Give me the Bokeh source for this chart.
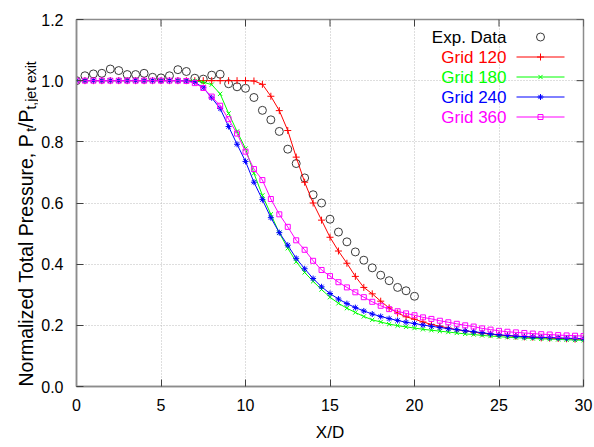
import math
from bokeh.plotting import figure
from bokeh.layouts import row
from bokeh.models import (FixedTicker, NumeralTickFormatter, Label, Range1d, ColumnDataSource)
from bokeh.embed import file_html
from bokeh.resources import INLINE

# ---------------- data ----------------
x_grid = [0.0, 0.5, 1.0, 1.5, 2.0, 2.5, 3.0, 3.5, 4.0, 4.5, 5.0, 5.5, 6.0, 6.5, 7.0, 7.5,
          8.0, 8.5, 9.0, 9.5, 10.0, 10.5, 11.0, 11.5, 12.0, 12.5, 13.0, 13.5, 14.0, 14.5,
          15.0, 15.5, 16.0, 16.5, 17.0, 17.5, 18.0, 18.5, 19.0, 19.5, 20.0, 20.5, 21.0,
          21.5, 22.0, 22.5, 23.0, 23.5, 24.0, 24.5, 25.0, 25.5, 26.0, 26.5, 27.0, 27.5,
          28.0, 28.5, 29.0, 29.5, 30.0]

x_exp = [0.0, 0.5, 1.0, 1.5, 2.0, 2.5, 3.0, 3.5, 4.0, 4.5, 5.0, 5.5, 6.0, 6.5, 7.0, 7.5,
         8.0, 8.5, 9.0, 9.5, 10.0, 10.5, 11.0, 11.5, 12.0, 12.5, 13.0, 13.5, 14.0, 14.5,
         15.0, 15.5, 16.0, 16.5, 17.0, 17.5, 18.0, 18.5, 19.0, 19.5, 20.0]
exp_data = [1.000, 1.016, 1.022, 1.024, 1.038, 1.033, 1.020, 1.020, 1.024, 1.011, 1.009,
            1.016, 1.036, 1.030, 1.008, 1.005, 1.018, 1.021, 0.990, 0.980, 0.975, 0.945,
            0.903, 0.872, 0.834, 0.776, 0.729, 0.682, 0.627, 0.600, 0.547, 0.505, 0.473,
            0.440, 0.413, 0.388, 0.364, 0.346, 0.324, 0.313, 0.295]

grid_120 = [1.000, 1.000, 1.000, 1.000, 1.000, 1.000, 1.000, 1.000, 1.000, 1.000, 1.000,
            1.000, 1.000, 1.000, 1.000, 1.000, 1.000, 1.000, 1.000, 1.000, 1.000, 0.999,
            0.988, 0.949, 0.902, 0.837, 0.750, 0.668, 0.600, 0.544, 0.488, 0.443, 0.403,
            0.360, 0.324, 0.303, 0.279, 0.257, 0.240, 0.228, 0.220, 0.211, 0.203, 0.197,
            0.191, 0.186, 0.182, 0.178, 0.174, 0.171, 0.168, 0.166, 0.164, 0.162, 0.161,
            0.159, 0.158, 0.157, 0.156, 0.155, 0.155]

grid_180 = [1.000, 1.000, 1.000, 1.000, 1.000, 1.000, 1.000, 1.000, 1.000, 1.000, 1.000,
            1.000, 1.000, 1.000, 0.999, 0.995, 0.987, 0.957, 0.893, 0.834, 0.778, 0.697,
            0.625, 0.563, 0.502, 0.452, 0.408, 0.373, 0.344, 0.317, 0.292, 0.272, 0.256,
            0.242, 0.229, 0.218, 0.211, 0.204, 0.199, 0.195, 0.191, 0.187, 0.184, 0.181,
            0.178, 0.175, 0.172, 0.170, 0.167, 0.165, 0.163, 0.161, 0.160, 0.158, 0.157,
            0.156, 0.155, 0.154, 0.153, 0.152, 0.151]

grid_240 = [1.000, 1.000, 1.000, 1.000, 1.000, 1.000, 1.000, 1.000, 1.000, 1.000, 1.000,
            1.000, 1.000, 0.999, 0.995, 0.977, 0.944, 0.909, 0.850, 0.792, 0.736, 0.668,
            0.611, 0.552, 0.503, 0.462, 0.419, 0.385, 0.353, 0.326, 0.304, 0.286, 0.271,
            0.258, 0.247, 0.237, 0.229, 0.222, 0.216, 0.210, 0.206, 0.201, 0.197, 0.193,
            0.189, 0.186, 0.182, 0.179, 0.176, 0.172, 0.169, 0.167, 0.165, 0.163, 0.162,
            0.161, 0.160, 0.159, 0.158, 0.157, 0.156]

grid_360 = [1.000, 1.000, 1.000, 1.000, 1.000, 1.000, 1.000, 1.000, 1.000, 1.000, 1.000,
            1.000, 1.000, 0.999, 0.992, 0.976, 0.948, 0.918, 0.874, 0.827, 0.768, 0.711,
            0.675, 0.613, 0.563, 0.522, 0.478, 0.447, 0.411, 0.381, 0.361, 0.341, 0.324,
            0.308, 0.292, 0.277, 0.264, 0.253, 0.246, 0.239, 0.233, 0.226, 0.221, 0.215,
            0.210, 0.205, 0.200, 0.196, 0.190, 0.186, 0.182, 0.179, 0.177, 0.175, 0.173,
            0.171, 0.170, 0.168, 0.167, 0.166, 0.165]

x_ticks = [0, 5, 10, 15, 20, 25, 30]
y_ticks = [0.0, 0.2, 0.4, 0.6, 0.8, 1.0, 1.2]

series_names = ["Grid 120", "Grid 180", "Grid 240", "Grid 360"]
series_values = [grid_120, grid_180, grid_240, grid_360]
series_colors = ["#ff0000", "#00ff00", "#0000ff", "#ff00ff"]
series_markers = ["cross", "x", "asterisk", "square"]
series_sizes = [7, 6, 6, 5]

FONT = "Liberation Sans"
FRAME_COLOR = "#8c8c8c"
TICK_COLOR = "#404040"
EXP_COLOR = "#3a3a3a"

X0, X1, Y0, Y1 = 0, 30, 0, 1.2

# ---------------- layout (pixels) ----------------
LEFT_W = 38                 # strip holding the rotated y-axis title
FIG_W, FIG_H = 594 - LEFT_W, 447
B_LEFT, B_RIGHT, B_TOP, B_BOTTOM = 76 - LEFT_W, 11, 19, 61
FRAME_W = FIG_W - B_LEFT - B_RIGHT
FRAME_H = FIG_H - B_TOP - B_BOTTOM

# ---------------- main figure ----------------
p = figure(width=FIG_W, height=FIG_H, output_backend="svg", toolbar_location=None,
           x_range=Range1d(X0, X1), y_range=Range1d(Y0, Y1),
           min_border_left=B_LEFT, min_border_right=B_RIGHT, min_border_top=B_TOP,
           min_border_bottom=B_BOTTOM, background_fill_color="white",
           border_fill_color="white")
p.outline_line_color = FRAME_COLOR
p.outline_line_width = 1.5

for g in (p.xgrid, p.ygrid):
    g.grid_line_color = "#bdbdbd"
    g.grid_line_dash = "1 2"
    g.grid_line_width = 1
p.xgrid.ticker = FixedTicker(ticks=x_ticks)
p.ygrid.ticker = FixedTicker(ticks=y_ticks)

xa = p.xaxis[0]
ya = p.yaxis[0]
xa.ticker = FixedTicker(ticks=x_ticks)
ya.ticker = FixedTicker(ticks=y_ticks)
ya.formatter = NumeralTickFormatter(format="0.0")
for ax in (xa, ya):
    ax.axis_line_color = FRAME_COLOR
    ax.axis_line_width = 1.5
    ax.major_tick_in = 7
    ax.major_tick_out = 0
    ax.major_tick_line_color = TICK_COLOR
    ax.minor_tick_line_color = None
    ax.major_label_text_font = FONT
    ax.major_label_text_font_size = "16px"
    ax.major_label_text_color = "black"
xa.major_label_standoff = 12
ya.major_label_standoff = 13
xa.axis_label = "X/D"
xa.axis_label_text_font = FONT
xa.axis_label_text_font_size = "17px"
xa.axis_label_text_font_style = "normal"
xa.axis_label_text_color = "black"
xa.axis_label_standoff = 9

# mirrored inward ticks on the top and right edges (dash markers clipped by the frame)
p.scatter(x=x_ticks, y=[Y1] * len(x_ticks), marker="dash", size=14, angle=math.pi / 2,
          line_color=TICK_COLOR, line_width=1)
p.scatter(x=[X1] * len(y_ticks), y=y_ticks, marker="dash", size=14,
          line_color=TICK_COLOR, line_width=1)

# ---------------- data glyphs ----------------
exp_src = ColumnDataSource(dict(x=x_exp, y=exp_data))
p.scatter("x", "y", source=exp_src, marker="circle", size=8,
          fill_color=None, line_color=EXP_COLOR, line_width=1)

for vals, col, mk, sz in zip(series_values, series_colors, series_markers, series_sizes):
    src = ColumnDataSource(dict(x=x_grid, y=vals))
    p.line("x", "y", source=src, line_color=col, line_width=1)
    p.scatter("x", "y", source=src, marker=mk, size=sz, line_color=col,
              fill_color=None, line_width=1)

# ---------------- legend (text left, sample right, as in gnuplot) ----------------
def px_to_x(px):
    return X0 + (px - (LEFT_W + B_LEFT)) * (X1 - X0) / FRAME_W


def py_to_y(py):
    return Y0 + (B_TOP + FRAME_H - py) * (Y1 - Y0) / FRAME_H


LEG_ROW0, LEG_DY = 36.5, 20.0          # canvas px of first row centre, row pitch
LEG_TEXT_RIGHT = 506                   # canvas px
LEG_SAMPLE = (516, 564)                # canvas px of sample line

legend_texts = ["Exp. Data"] + series_names
legend_colors = ["black"] + series_colors
for i, (t, c) in enumerate(zip(legend_texts, legend_colors)):
    cy = LEG_ROW0 + LEG_DY * i
    p.add_layout(Label(x=LEG_TEXT_RIGHT - LEFT_W - B_LEFT, y=B_TOP + FRAME_H - cy,
                       x_units="screen", y_units="screen",
                       text=t, text_color=c, text_font=FONT, text_font_size="17px",
                       text_align="right", text_baseline="middle"))

sx0, sx1 = px_to_x(LEG_SAMPLE[0]), px_to_x(LEG_SAMPLE[1])
sxm = (sx0 + sx1) / 2
p.scatter(x=[sxm], y=[py_to_y(LEG_ROW0)], marker="circle", size=8, fill_color=None,
          line_color=EXP_COLOR, line_width=1)
for i, (col, mk, sz) in enumerate(zip(series_colors, series_markers, series_sizes)):
    sy = py_to_y(LEG_ROW0 + LEG_DY * (i + 1))
    p.segment(x0=[sx0], y0=[sy], x1=[sx1], y1=[sy], line_color=col, line_width=1)
    p.scatter(x=[sxm], y=[sy], marker=mk, size=sz, line_color=col, fill_color=None,
              line_width=1)

# ---------------- y-axis title strip (with subscripts) ----------------
# Same top/bottom borders as the main plot so the aligned frames coincide;
# its y range is expressed in canvas pixels measured from the bottom edge.
lab = figure(width=LEFT_W, height=FIG_H, output_backend="svg", toolbar_location=None,
             x_range=Range1d(0, LEFT_W), y_range=Range1d(B_BOTTOM, FIG_H - B_TOP),
             x_axis_type=None, y_axis_type=None,
             min_border_left=0, min_border_right=0, min_border_top=B_TOP,
             min_border_bottom=B_BOTTOM, outline_line_color=None,
             background_fill_color="white", border_fill_color="white")
lab.grid.visible = False

W = {'N': 722, 'o': 556, 'r': 333, 'm': 833, 'a': 556, 'l': 222, 'i': 222, 'z': 500,
     'e': 556, 'd': 556, ' ': 278, 'T': 611, 't': 278, 'P': 667, 's': 500, 'u': 556,
     ',': 278, '/': 278, 'j': 222, 'x': 500}


def text_w(s, size):
    return sum(W[c] for c in s) * size / 1000.0


MAIN, SUB = 19.5, 14
BASE_X, SUB_SHIFT = 25, 5
pieces = [("Normalized Total Pressure, P", MAIN, 0), ("t", SUB, SUB_SHIFT),
          ("/P", MAIN, 0), ("t,jet exit", SUB, SUB_SHIFT)]
ypos = FIG_H - 386.0
for txt, size, shift in pieces:
    lab.add_layout(Label(x=BASE_X + shift, y=ypos, text=txt, angle=math.pi / 2,
                         text_font=FONT, text_font_size=f"{size}px", text_color="black",
                         text_align="left", text_baseline="alphabetic"))
    ypos += text_w(txt, size)

layout = row(lab, p, spacing=0)
open("out.html", "w").write(file_html(layout, INLINE))
